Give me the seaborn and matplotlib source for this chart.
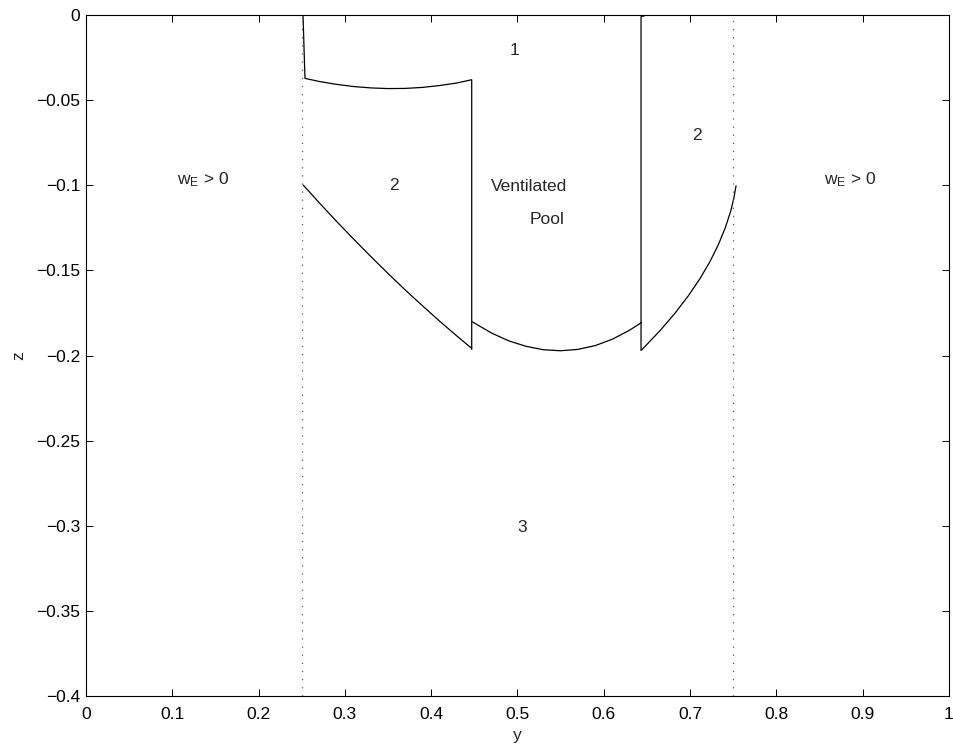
import numpy as np
import pandas as pd
import matplotlib
matplotlib.use("Agg")
import matplotlib.pyplot as plt
import seaborn as sns

# boundary curves (y, z)
top_left_y = [0.2515, 0.2538, 0.27, 0.29, 0.31, 0.33, 0.35, 0.37, 0.39,
              0.41, 0.43, 0.447, 0.447]
top_left_z = [0.0, -0.0372, -0.0390, -0.0407, -0.0420, -0.0428, -0.0432,
              -0.0431, -0.0425, -0.0414, -0.0399, -0.0380, -0.1964]

lower_left_y = [0.2518, 0.27, 0.29, 0.31, 0.33, 0.35, 0.37, 0.39, 0.41,
                0.43, 0.447]
lower_left_z = [-0.0999, -0.1101, -0.1210, -0.1315, -0.1418, -0.1518,
                -0.1615, -0.1708, -0.1799, -0.1886, -0.1958]

pool_y = [0.4477, 0.47, 0.49, 0.51, 0.53, 0.55, 0.57, 0.59, 0.61, 0.63,
          0.6438]
pool_z = [-0.1802, -0.1868, -0.1914, -0.1946, -0.1966, -0.1972, -0.1964,
          -0.1942, -0.1904, -0.1851, -0.1806]

right_wall_y = [0.6497, 0.6432, 0.6432]
right_wall_z = [0.0, -0.001, -0.1970]

right_curve_y = [0.6438, 0.6659, 0.6828, 0.6979, 0.7113, 0.7229, 0.7327,
                 0.7408, 0.7472, 0.7506, 0.7533]
right_curve_z = [-0.1968, -0.185, -0.175, -0.165, -0.155, -0.145, -0.135,
                 -0.125, -0.115, -0.108, -0.1003]

# dotted limits of the w_E > 0 region
limit_y = [0.25, 0.75]

# region labels
label_text = ["1", "2", "Ventilated", "Pool", "2",
              r"$\mathregular{w_E}$ > 0", r"$\mathregular{w_E}$ > 0", "3"]
label_y = [0.497, 0.357, 0.514, 0.534, 0.708, 0.136, 0.885, 0.506]
label_z = [-0.0206, -0.0999, -0.1005, -0.120, -0.0705, -0.0965, -0.0965, -0.3008]

sns.set_style("white")
plt.rcParams["font.family"] = ["Liberation Sans", "DejaVu Sans"]
plt.rcParams["mathtext.fontset"] = "custom"
plt.rcParams["mathtext.rm"] = "Liberation Sans"

segments = [(top_left_y, top_left_z), (lower_left_y, lower_left_z),
            (pool_y, pool_z), (right_wall_y, right_wall_z),
            (right_curve_y, right_curve_z)]
rows = []
for k, (ys, zs) in enumerate(segments):
    for order, (yy, zz) in enumerate(zip(ys, zs)):
        rows.append({"seg": k, "order": order, "y": yy, "z": zz})
df = pd.DataFrame(rows)

fig = plt.figure(figsize=(9.54, 7.48), dpi=100)
ax = fig.add_axes([0.0901, 0.0695, 0.9046, 0.9104])

sns.lineplot(data=df, x="y", y="z", units="seg", estimator=None, sort=False,
             color="black", linewidth=0.9, ax=ax, legend=False)

for yl in limit_y:
    ax.plot([yl, yl], [-0.4, 0.0], linestyle=(0, (1, 5.5)), color="0.35",
            linewidth=0.9)

for t, yy, zz in zip(label_text, label_y, label_z):
    ax.text(yy, zz, t, ha="center", va="center", fontsize=12.5)

ax.set_xlim(0, 1)
ax.set_ylim(-0.4, 0)
ax.set_xticks(np.arange(0, 1.01, 0.1))
ax.set_xticklabels(["0", "0.1", "0.2", "0.3", "0.4", "0.5", "0.6", "0.7",
                    "0.8", "0.9", "1"])
ax.set_yticks(np.arange(-0.4, 0.001, 0.05))
ax.set_yticklabels(["\u22120.4", "\u22120.35", "\u22120.3", "\u22120.25",
                    "\u22120.2", "\u22120.15", "\u22120.1", "\u22120.05", "0"])
ax.tick_params(direction="in", length=5, width=0.7, labelsize=12.5,
               top=True, right=True, bottom=True, left=True, colors="black")
ax.tick_params(axis="x", pad=8)
ax.tick_params(axis="y", pad=4)
for s in ax.spines.values():
    s.set_visible(True)
    s.set_color("black")
    s.set_linewidth(0.8)
ax.set_xlabel("y", fontsize=12.5, labelpad=4)
ax.set_ylabel("z", fontsize=12.5, labelpad=7)

fig.savefig("out.png", dpi=100)
